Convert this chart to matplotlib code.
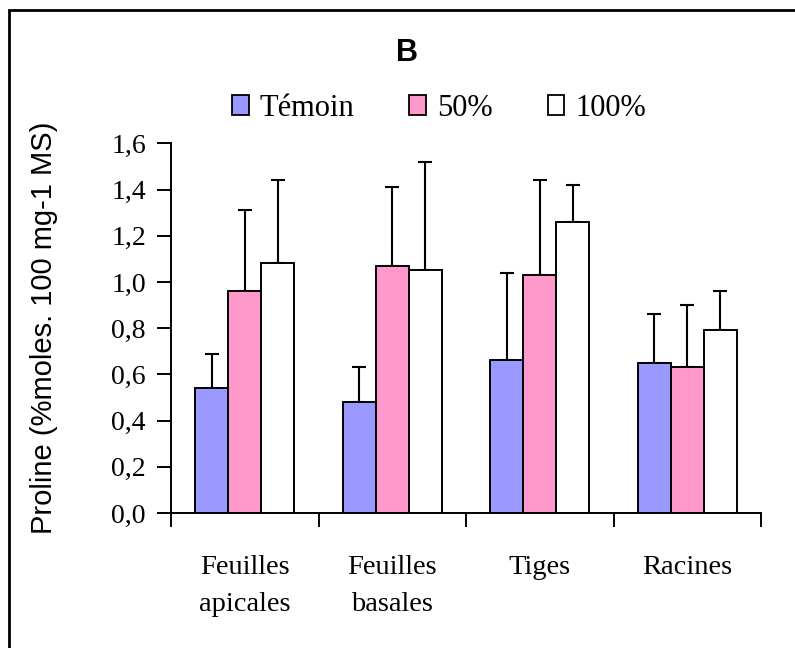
import numpy as np
import matplotlib
matplotlib.use('Agg')
import matplotlib.pyplot as plt
from matplotlib.patches import Patch, Rectangle
from matplotlib.ticker import FuncFormatter, FixedLocator

# data (proline, B)
categories = ['Feuilles\napicales', 'Feuilles\nbasales', 'Tiges', 'Racines']
series = ['Témoin', '50%', '100%']
temoin = [0.54, 0.48, 0.66, 0.65]
p50 = [0.96, 1.07, 1.03, 0.63]
p100 = [1.08, 1.05, 1.26, 0.79]
err_temoin = [0.15, 0.15, 0.38, 0.21]
err_p50 = [0.35, 0.34, 0.41, 0.27]
err_p100 = [0.36, 0.47, 0.16, 0.17]
colors = ['#9999FF', '#FF99CC', '#FFFFFF']

serif = 'Liberation Serif'
sans = 'Liberation Sans'

fig = plt.figure(figsize=(7.95, 6.48), dpi=100)
ax = fig.add_axes([171/795, 1 - 513/648, 590/795, (513 - 143.3)/648])

x = np.arange(len(categories))
w = 0.224
values = [temoin, p50, p100]
errs = [err_temoin, err_p50, err_p100]
for i in range(3):
    pos = x + (i - 1) * w
    ax.bar(pos, values[i], w, color=colors[i], edgecolor='black', linewidth=1.4, zorder=2)
    ax.errorbar(pos, values[i], yerr=[np.zeros(4), errs[i]], fmt='none',
                ecolor='black', elinewidth=1.5, capsize=5, capthick=1.5, zorder=1)

ax.set_xlim(-0.5, 3.5)
ax.set_ylim(0, 1.6)
ax.set_yticks(np.arange(0, 1.61, 0.2))
ax.yaxis.set_major_formatter(FuncFormatter(lambda v, p: f'{v:.1f}'.replace('.', ',')))

# category boundaries get ticks, names sit between them
ax.xaxis.set_major_locator(FixedLocator(np.arange(-0.5, 3.6, 1)))
ax.xaxis.set_minor_locator(FixedLocator(x))
ax.set_xticklabels([''] * 5)
ax.set_xticklabels(categories, minor=True, fontfamily=serif, fontsize=20.5, linespacing=1.65)
ax.tick_params(axis='x', which='major', length=10, width=1.4, direction='out')
ax.tick_params(axis='x', which='minor', length=0, pad=30)
ax.tick_params(axis='y', length=10, width=1.4, direction='out', pad=8)
for lab in ax.get_yticklabels():
    lab.set_fontfamily(serif)
    lab.set_fontsize(20)

for s in ['top', 'right']:
    ax.spines[s].set_visible(False)
for s in ['left', 'bottom']:
    ax.spines[s].set_linewidth(1.4)

ax.set_ylabel('Proline (%moles. 100 mg-1 MS)', fontfamily=sans, fontsize=21, labelpad=38)

fig.text(407/795, 1 - 53/648, 'B', ha='center', va='center', fontfamily=sans,
         fontweight='bold', fontsize=22)

handles = [Patch(facecolor=c, edgecolor='black', linewidth=1.3) for c in colors]
fig.legend(handles, series, loc='center', bbox_to_anchor=(439/795, 1 - 108/648), ncol=3,
           frameon=False, prop={'family': serif, 'size': 22}, handlelength=0.55,
           handleheight=0.65, handletextpad=0.35, columnspacing=1.8)

# outer frame (right and bottom edges fall outside the picture)
fig.patches.append(Rectangle((9/795, -0.1), 1.2, 1.1 - 10/648, transform=fig.transFigure,
                             fill=False, edgecolor='black', linewidth=2))

fig.savefig('out.png', dpi=100)
